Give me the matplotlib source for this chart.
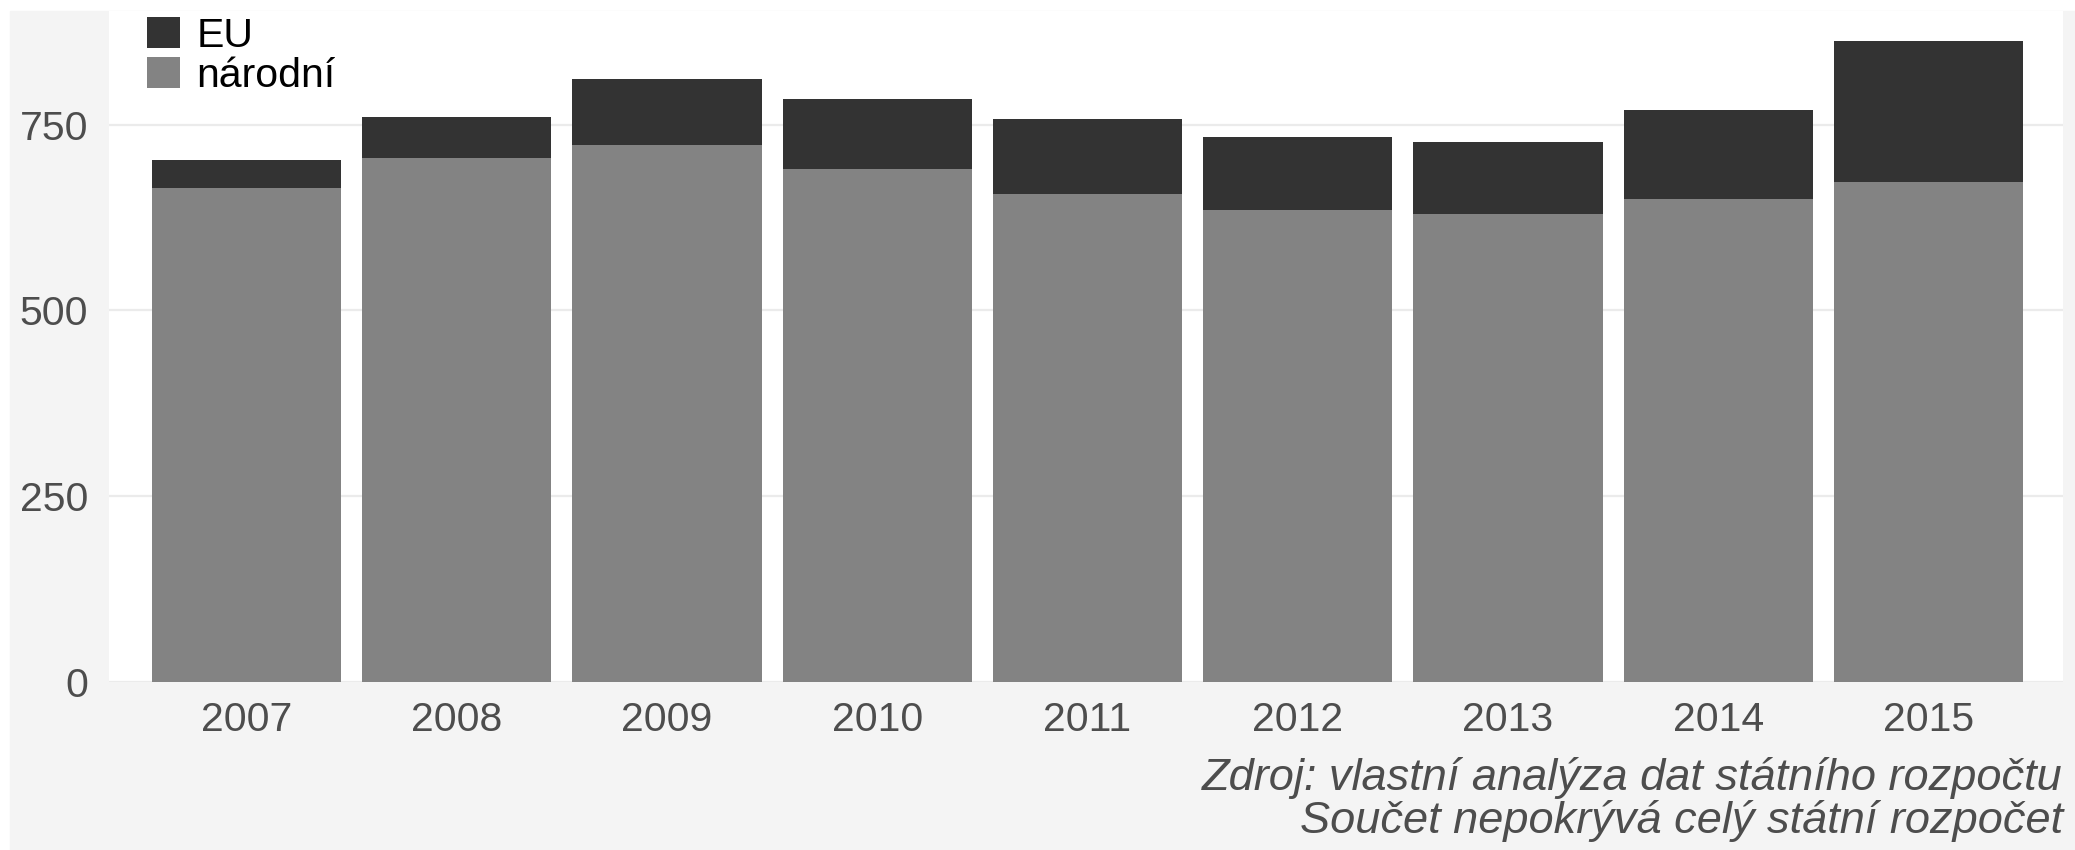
import matplotlib.pyplot as plt
from matplotlib.patches import Rectangle

years = ["2007", "2008", "2009", "2010", "2011", "2012", "2013", "2014", "2015"]
narodni = [665, 705, 723, 690, 657, 635, 630, 650, 673]
eu = [37, 55, 88, 94, 101, 98, 96, 120, 189]

plt.rcParams["font.family"] = ["Liberation Sans", "DejaVu Sans"]

W, H = 2075, 850
fig = plt.figure(figsize=(W / 100, H / 100), dpi=100, facecolor="white")
# grey background with thin white margin on top and left
fig.patches.append(Rectangle((10 / W, 0), 1 - 10 / W, (H - 11) / H,
                             transform=fig.transFigure, color="#f4f4f4", zorder=-10))

ax = fig.add_axes([109 / W, 1 - 681.7 / H, (2063 - 109) / W, (681.7 - 11) / H])
ax.set_facecolor("white")

x = range(len(years))
b1 = ax.bar(x, narodni, width=0.9, color="#838383", label="národní", zorder=2)
b2 = ax.bar(x, eu, width=0.9, bottom=narodni, color="#333333", label="EU", zorder=2)

ax.set_xlim(-0.654, 8.64)
ax.set_ylim(0, 903)
ax.set_yticks([0, 250, 500, 750])
ax.set_xticks(list(x))
ax.set_xticklabels(years)
ax.grid(axis="y", color="#ebebeb", linewidth=1.6, zorder=1)
ax.tick_params(axis="both", length=0, labelsize=29.5, labelcolor="#4d4d4d")
ax.tick_params(axis="y", pad=15)
ax.tick_params(axis="x", pad=14)
for s in ax.spines.values():
    s.set_visible(False)

ax.legend([b2, b1], ["EU", "národní"], loc="upper left",
          bbox_to_anchor=(147 / W, 1 - 17 / H), bbox_transform=fig.transFigure,
          frameon=False, fontsize=29.5, handlelength=0.8, handleheight=0.8,
          handletextpad=0.4, labelspacing=0.05, borderpad=0, borderaxespad=0)

fig.text(2063 / W, 1 - 790 / H, "Zdroj: vlastní analýza dat státního rozpočtu",
         ha="right", va="baseline", style="italic", fontsize=32.5, color="#4d4d4d")
fig.text(2063 / W, 1 - 833 / H, "Součet nepokrývá celý státní rozpočet",
         ha="right", va="baseline", style="italic", fontsize=32.5, color="#4d4d4d")

fig.savefig("out.png", dpi=100, facecolor=fig.get_facecolor())
